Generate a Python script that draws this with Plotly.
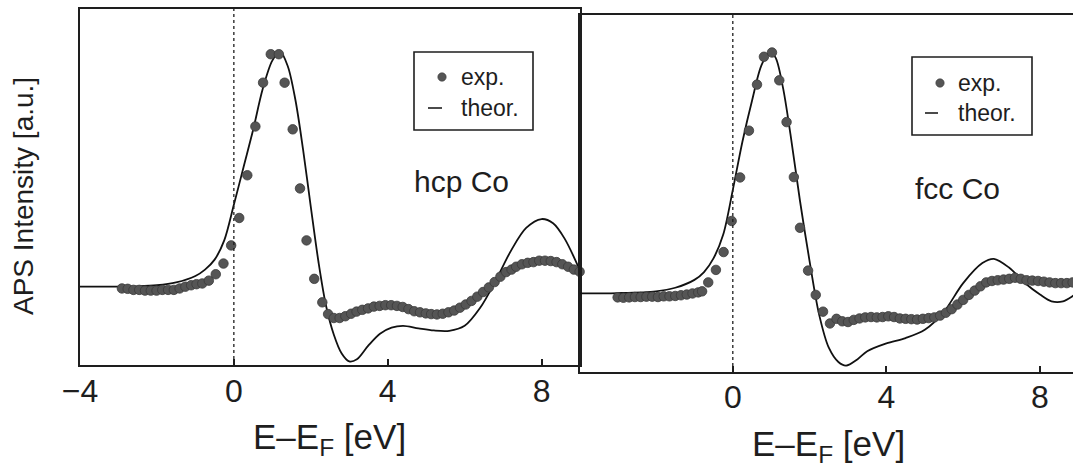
import plotly.graph_objects as go

# ---------------- data ----------------
# hcp Co : experiment (dots) and theory (line)
hcp_exp_E = [-2.91, -2.76, -2.61, -2.46, -2.31, -2.16, -2.01, -1.86, -1.71, -1.56,
             -1.41, -1.26, -1.11, -0.97, -0.82, -0.65, -0.47, -0.27, -0.07, 0.14,
             0.35, 0.56, 0.76, 0.96, 1.17, 1.32, 1.53, 1.72, 1.89, 2.09,
             2.30, 2.45, 2.60, 2.75, 2.90, 3.05, 3.19, 3.34, 3.49, 3.64,
             3.79, 3.94, 4.09, 4.24, 4.39, 4.54, 4.69, 4.84, 4.99, 5.13,
             5.28, 5.43, 5.58, 5.73, 5.88, 6.03, 6.18, 6.33, 6.48, 6.63,
             6.78, 6.93, 7.08, 7.22, 7.34, 7.49, 7.64, 7.79, 7.94, 8.09,
             8.24, 8.39, 8.54, 8.69, 8.84, 8.99]
hcp_exp_I = [21.5, 21.4, 21.1, 21.1, 20.9, 20.9, 20.9, 21.1, 21.1, 21.1,
             21.5, 22.0, 22.4, 22.7, 22.9, 23.7, 25.5, 28.5, 33.6, 41.3,
             53.3, 67.0, 79.3, 87.3, 87.3, 79.3, 66.2, 49.6, 35.0, 24.2,
             17.6, 14.3, 13.2, 13.2, 13.7, 14.4, 15.0, 15.5, 15.9, 16.4,
             16.6, 16.8, 16.8, 16.6, 16.3, 15.7, 15.1, 14.8, 14.5, 14.3,
             14.2, 14.4, 14.8, 15.3, 16.1, 17.0, 18.0, 19.2, 20.5, 21.8,
             23.3, 24.8, 26.1, 26.8, 27.6, 28.3, 28.7, 28.9, 29.3, 29.3,
             29.2, 28.9, 28.3, 27.6, 26.8, 26.2]
hcp_th_E = [-4.0, -3.0, -2.5, -2.0, -1.5, -1.0, -0.75, -0.5, -0.25, 0.0,
            0.25, 0.5, 0.75, 1.0, 1.2, 1.4, 1.6, 1.8, 2.0, 2.2,
            2.4, 2.6, 2.8, 3.0, 3.2, 3.5, 3.8, 4.1, 4.4, 4.8,
            5.2, 5.6, 6.0, 6.4, 6.8, 7.2, 7.6, 8.0, 8.3, 8.6, 9.0]
hcp_th_I = [22.0, 22.0, 22.1, 22.4, 23.2, 25.0, 26.8, 29.6, 35.0, 45.0,
            55.5, 66.0, 77.5, 85.5, 88.0, 84.0, 74.5, 60.5, 44.5, 29.0,
            16.5, 8.5, 3.3, 1.0, 1.6, 5.5, 8.8, 10.5, 11.0, 10.3,
            9.7, 9.6, 11.0, 16.0, 23.5, 32.0, 38.5, 41.0, 39.8, 35.5, 26.5]

# fcc Co : experiment (dots) and theory (line)
fcc_exp_E = [-3.00, -2.85, -2.70, -2.55, -2.40, -2.25, -2.10, -1.95, -1.80, -1.65,
             -1.50, -1.35, -1.20, -1.05, -0.90, -0.80,
             -0.64, -0.44, -0.24, -0.03, 0.19, 0.42, 0.63, 0.81, 1.02, 1.21,
             1.40, 1.59, 1.75, 1.96, 2.16, 2.35,
             2.53, 2.70, 2.85, 3.00, 3.15, 3.30, 3.45, 3.60, 3.75, 3.90,
             4.05, 4.20, 4.35, 4.50, 4.65, 4.80, 4.95, 5.10, 5.25, 5.40,
             5.55, 5.70, 5.85, 6.00, 6.15, 6.30, 6.45, 6.60, 6.75, 6.90,
             7.05, 7.20, 7.35, 7.50, 7.65, 7.80, 7.95, 8.10, 8.25, 8.40,
             8.55, 8.70, 8.85]
fcc_exp_I = [20.9, 20.8, 20.9, 21.0, 21.0, 21.1, 21.1, 21.0, 21.2, 21.2,
             21.3, 21.5, 21.7, 22.0, 22.3, 22.6,
             25.1, 28.6, 33.6, 42.3, 54.5, 67.6, 80.5, 88.3, 89.5, 81.7,
             70.0, 54.6, 40.4, 28.4, 21.6, 16.9,
             13.6, 14.9, 14.2, 14.0, 14.6, 15.0, 15.3, 15.4, 15.3, 15.4,
             15.6, 15.4, 15.0, 14.9, 14.8, 14.7, 14.9, 15.1, 15.3, 15.8,
             16.6, 17.6, 18.9, 20.2, 21.6, 22.8, 24.0, 25.1, 25.5, 25.7,
             25.9, 26.1, 26.4, 26.1, 25.7, 25.6, 25.5, 25.3, 25.1, 24.9,
             24.9, 24.9, 25.1]
fcc_th_E = [-4.0, -3.0, -2.0, -1.5, -1.0, -0.75, -0.5, -0.25, 0.0, 0.25,
            0.5, 0.75, 0.95, 1.1, 1.3, 1.5, 1.75, 2.0, 2.25, 2.5,
            2.75, 2.95, 3.25, 3.5, 4.0, 4.5, 5.0, 5.5, 6.0, 6.5,
            6.8, 7.2, 7.6, 8.0, 8.3, 8.6, 8.9, 9.0]
fcc_th_I = [22.0, 22.1, 22.6, 23.6, 25.8, 28.0, 31.9, 38.5, 51.0, 64.5,
            76.0, 86.0, 89.3, 88.3, 80.0, 66.7, 47.9, 31.0, 16.0, 6.8,
            2.8, 1.8, 3.6, 5.8, 8.0, 9.5, 11.8, 16.9, 24.9, 30.5,
            31.7, 29.2, 25.0, 21.7, 19.8, 19.8, 21.6, 22.2]

left_tick_vals = [-4, 0, 4, 8]
left_tick_text = ["\u22124", "0", "4", "8"]
right_tick_vals = [0, 4, 8]
right_tick_text = ["0", "4", "8"]
fermi_level = 0

panel_labels = ["hcp Co", "fcc Co"]
legend_labels = ["exp.", "theor."]
x_title = "E\u2013E<sub>F</sub> [eV]"
y_title = "APS Intensity [a.u.]"

# ---------------- layout helpers (pixel -> paper) ----------------
W, H = 1073, 468
ML, MR, MT, MB = 80, 0, 9, 96
PW = W - ML - MR
PH = H - MT - MB


def px(x):
    return (x - ML) / PW


def py(y):
    return (H - MB - y) / PH


FONT = "Liberation Sans, Arial, Helvetica, sans-serif"
INK = "#1e1e1e"
DOT = "#555555"

fig = go.Figure()

line_style = dict(color="#111111", width=1.8, shape="spline", smoothing=0.9)
marker_style = dict(size=9.5, color=DOT, line=dict(width=0.8, color="#3a3a3a"))

fig.add_trace(go.Scatter(x=hcp_th_E, y=hcp_th_I, mode="lines", line=line_style,
                         xaxis="x", yaxis="y", showlegend=False, hoverinfo="skip"))
fig.add_trace(go.Scatter(x=hcp_exp_E, y=hcp_exp_I, mode="markers", marker=marker_style,
                         cliponaxis=False, xaxis="x", yaxis="y", showlegend=False))
fig.add_trace(go.Scatter(x=fcc_th_E, y=fcc_th_I, mode="lines", line=line_style,
                         xaxis="x2", yaxis="y2", showlegend=False, hoverinfo="skip"))
fig.add_trace(go.Scatter(x=fcc_exp_E, y=fcc_exp_I, mode="markers", marker=marker_style,
                         cliponaxis=False, xaxis="x2", yaxis="y2", showlegend=False))

axis_common = dict(showgrid=False, zeroline=False, linecolor=INK, linewidth=2,
                   showline=True)
xcommon = dict(axis_common, ticks="inside", ticklen=6, tickwidth=1.5, tickcolor=INK,
               tickfont=dict(family=FONT, size=32, color=INK))

fig.update_layout(
    width=W, height=H,
    margin=dict(l=ML, r=MR, t=MT, b=MB, pad=0),
    paper_bgcolor="white", plot_bgcolor="white",
    font=dict(family=FONT, color=INK),
    xaxis=dict(xcommon, domain=[0, px(580)], range=[-4, 9], mirror=True,
               tickvals=left_tick_vals, ticktext=left_tick_text, anchor="y",
               ticklabelstandoff=-3),
    yaxis=dict(axis_common, domain=[py(365), py(9)], range=[0, 100], mirror=True,
               showticklabels=False, ticks="", anchor="x"),
    xaxis2=dict(xcommon, domain=[px(580), 1], range=[-3.98, 8.86], mirror=True,
                tickvals=right_tick_vals, ticktext=right_tick_text, anchor="y2",
                ticklabelstandoff=-4),
    yaxis2=dict(axis_common, domain=[0, py(15)], range=[0, 100], mirror=False,
                showticklabels=False, ticks="", anchor="x2"),
)

shapes = []
# Fermi level dotted lines
for xr, yr in (("x", "y domain"), ("x2", "y2 domain")):
    shapes.append(dict(type="line", xref=xr, yref=yr, x0=fermi_level, x1=fermi_level,
                       y0=0, y1=1, line=dict(color=INK, width=1.3, dash="dot")))

# legend boxes (left panel, right panel)
legend_boxes = [(414, 533, 52, 130), (912, 1032, 57, 135)]
legend_dots = [(442, 77), (940, 83)]
legend_dash = [(428, 442, 108), (925, 938, 113)]
legend_text_x = [459, 956]
legend_text_y = [(77, 108), (83, 113)]
for (x0, x1, y0, y1) in legend_boxes:
    shapes.append(dict(type="rect", xref="paper", yref="paper",
                       x0=px(x0), x1=px(x1), y0=py(y1), y1=py(y0),
                       line=dict(color=INK, width=1.6), fillcolor="rgba(0,0,0,0)"))
for (cx, cy) in legend_dots:
    r = 4.2
    shapes.append(dict(type="circle", xref="paper", yref="paper",
                       x0=px(cx - r), x1=px(cx + r), y0=py(cy + r), y1=py(cy - r),
                       fillcolor=DOT, line=dict(color="#3a3a3a", width=0.6)))
for (x0, x1, yy) in legend_dash:
    shapes.append(dict(type="line", xref="paper", yref="paper",
                       x0=px(x0), x1=px(x1), y0=py(yy), y1=py(yy),
                       line=dict(color=INK, width=1.6)))

annotations = []
for tx, (ye, yt) in zip(legend_text_x, legend_text_y):
    annotations.append(dict(text=legend_labels[0], xref="paper", yref="paper",
                            x=px(tx), y=py(ye), xanchor="left", yanchor="middle",
                            showarrow=False, font=dict(family=FONT, size=23, color=INK)))
    annotations.append(dict(text=legend_labels[1], xref="paper", yref="paper",
                            x=px(tx), y=py(yt), xanchor="left", yanchor="middle",
                            showarrow=False, font=dict(family=FONT, size=23, color=INK)))

# panel labels
for lab, (cx, cy) in zip(panel_labels, [(461, 181), (957, 188)]):
    annotations.append(dict(text=lab, xref="paper", yref="paper", x=px(cx), y=py(cy),
                            xanchor="center", yanchor="middle", showarrow=False,
                            font=dict(family=FONT, size=30, color=INK)))

# x titles
for cx, cy in [(329, 439), (828, 446)]:
    annotations.append(dict(text=x_title, xref="paper", yref="paper", x=px(cx), y=py(cy),
                            xanchor="center", yanchor="middle", showarrow=False,
                            font=dict(family=FONT, size=35, color=INK)))

# y title
annotations.append(dict(text=y_title, xref="paper", yref="paper", x=px(23), y=py(196),
                        xanchor="center", yanchor="middle", textangle=-90, showarrow=False,
                        font=dict(family=FONT, size=28, color=INK)))

fig.update_layout(shapes=shapes, annotations=annotations)

fig.write_html("out.html")
